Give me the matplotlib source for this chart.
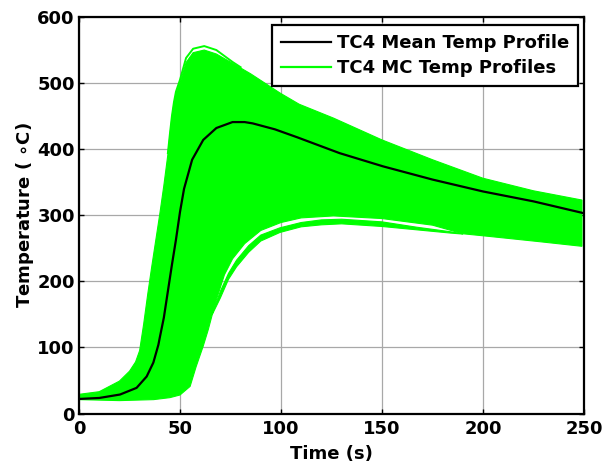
import numpy as np
import matplotlib
matplotlib.use("Agg")
import matplotlib.pyplot as plt

# --- valores ---
# borde superior de la nube principal de perfiles MC
t_sup = [0, 10, 20, 25, 28, 30, 32, 34, 36, 38, 40, 42, 44, 45, 46, 47, 48, 50,
         53, 56.5, 62, 68, 72, 76, 85, 99.5, 109, 126, 150, 175, 200, 225, 249]
T_sup = [29, 33, 49, 64, 78, 95, 135, 180, 222, 262, 302, 345, 392, 421, 448,
         469, 484, 500, 531, 546, 550, 544, 537, 530, 514, 485, 468, 447, 414,
         384, 356, 337, 323]

# perfiles mas altos, separados del resto cerca del pico
t_pico = [44, 45, 46, 47, 48, 50, 53, 56.5, 62, 68, 72, 76, 80]
T_pico = [394, 423, 450, 471, 487, 505, 538, 552, 556, 550, 541, 532, 524]

# borde inferior del grupo principal (encima del hueco blanco)
t_inf = [0, 20, 37, 45, 50, 55, 58, 61.5, 64, 66, 68, 72, 76, 82, 90, 100, 110,
         126, 150, 175, 190, 203, 228, 249]
T_inf = [21, 19.5, 21, 24, 28, 41, 71, 102, 127, 150, 172, 210, 234, 257, 277,
         289, 296, 299, 295, 285, 272, 268, 260, 253]

# banda de los perfiles mas bajos (debajo del hueco blanco)
t_banda = [66, 70, 74, 78, 84, 90, 99.5, 110, 120, 130, 150, 167, 184, 190]
T_banda_arr = [152, 185, 212, 232, 254, 270, 281, 289, 293, 294, 290, 282, 275, 272]
T_banda_ab = [150, 175, 203, 222, 244, 261, 274, 282.5, 285.5, 287, 283, 278, 273, 271.5]

# perfil medio TC4
t_media = [0, 10, 20.3, 28.5, 33.5, 36.8, 39.3, 40, 42, 44, 46, 48, 50, 52, 56,
           61.5, 68, 76, 82, 86, 97, 108, 129, 150.5, 175, 200, 225, 250]
T_media = [22, 23.5, 28.7, 38.8, 56, 77, 104, 115, 145, 185, 225, 263, 305, 340,
           384, 414, 432, 441, 441, 439, 430, 418, 394, 374, 354, 336, 321, 303]

xticks = [0, 50, 100, 150, 200, 250]
yticks = [0, 100, 200, 300, 400, 500, 600]

verde = '#00ff00'

plt.rcParams['font.family'] = ['DejaVu Sans']
plt.rcParams['font.weight'] = 'bold'

fig = plt.figure(figsize=(6.03, 4.65), dpi=100)
ax = fig.add_axes([79 / 603, 1 - 413.5 / 465, 505 / 603, 396.5 / 465])

# nube principal
ax.fill(np.r_[t_sup, t_inf[::-1]], np.r_[T_sup, T_inf[::-1]],
        color=verde, lw=0.8, zorder=2)
# perfiles mas bajos
ax.fill(np.r_[t_banda, t_banda[::-1]], np.r_[T_banda_arr, T_banda_ab[::-1]],
        color=verde, lw=0.8, zorder=2)
# perfiles mas altos
ax.plot(t_pico, T_pico, color=verde, lw=1.4, zorder=2)

l_media, = ax.plot(t_media, T_media, color='black', lw=1.6, zorder=3,
                   label='TC4 Mean Temp Profile')
l_mc, = ax.plot([], [], color=verde, lw=1.6, label='TC4 MC Temp Profiles')

ax.set_xlim(0, 250)
ax.set_ylim(0, 600)
ax.set_xticks(xticks)
ax.set_yticks(yticks)
ax.grid(True, color='#a8a8a8', lw=0.9, zorder=0)
ax.set_axisbelow(True)

for s in ax.spines.values():
    s.set_linewidth(1.6)
    s.set_color('black')
ax.tick_params(direction='in', length=3.5, width=1, top=True, right=True,
               labelsize=13, pad=5)
ax.tick_params(axis='y', pad=3)
for lab in ax.get_xticklabels() + ax.get_yticklabels():
    lab.set_fontweight('bold')

ax.set_xlabel('Time (s)', fontsize=13, fontweight='bold', labelpad=5)
ax.set_ylabel(r'Temperature ( $\circ$C)', fontsize=13, fontweight='bold',
              labelpad=1)

leg = ax.legend(handles=[l_media, l_mc], loc='upper right',
                bbox_to_anchor=(0.988, 0.980), borderaxespad=0,
                prop={'size': 13, 'weight': 'bold'}, fancybox=False,
                framealpha=1, edgecolor='black', handlelength=2.8,
                handletextpad=0.3, borderpad=0.5, labelspacing=0.4)
leg.get_frame().set_linewidth(1.6)
leg.set_zorder(5)

fig.savefig('out.png', dpi=100)
